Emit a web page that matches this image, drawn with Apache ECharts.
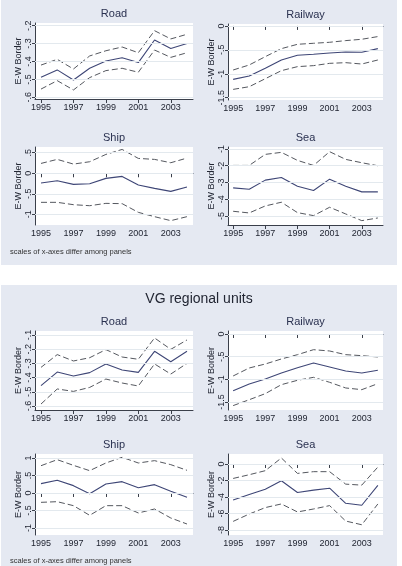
<!DOCTYPE html>
<html>
<head>
<meta charset="utf-8">
<script src="https://cdn.jsdelivr.net/npm/echarts@6/dist/echarts.min.js"></script>
<style>
html, body { margin: 0; padding: 0; background: #fff; }
#chart { width: 402px; height: 566px; }
</style>
</head>
<body>
<div id="chart"></div>
<script>
var years = [1995, 1996, 1997, 1998, 1999, 2000, 2001, 2002, 2003, 2004];
var xTicks = [1995, 1997, 1999, 2001, 2003];

// upper figure
var road1 = [-0.488, -0.447, -0.503, -0.438, -0.397, -0.379, -0.406, -0.28, -0.327, -0.299];
var road1Hi = [-0.42, -0.388, -0.442, -0.369, -0.34, -0.319, -0.351, -0.228, -0.274, -0.248];
var road1Lo = [-0.554, -0.507, -0.559, -0.49, -0.451, -0.438, -0.46, -0.336, -0.377, -0.351];
var rail1 = [-1.117, -1.047, -0.886, -0.712, -0.614, -0.593, -0.565, -0.544, -0.551, -0.475];
var rail1Hi = [-0.921, -0.816, -0.642, -0.475, -0.384, -0.363, -0.342, -0.307, -0.279, -0.223];
var rail1Lo = [-1.326, -1.27, -1.103, -0.935, -0.851, -0.83, -0.782, -0.768, -0.796, -0.712];
var ship1 = [-0.238, -0.181, -0.27, -0.254, -0.124, -0.076, -0.287, -0.368, -0.441, -0.335];
var ship1Hi = [0.24, 0.338, 0.224, 0.281, 0.459, 0.581, 0.362, 0.338, 0.257, 0.37];
var ship1Lo = [-0.708, -0.708, -0.765, -0.79, -0.733, -0.74, -0.952, -1.057, -1.154, -1.057];
var sea1 = [-3.32, -3.4, -2.86, -2.7, -3.22, -3.48, -2.8, -3.22, -3.56, -3.56];
var sea1Hi = [-1.98, -1.98, -1.32, -1.2, -1.68, -1.98, -1.16, -1.62, -1.82, -2.0];
var sea1Lo = [-4.72, -4.82, -4.4, -4.18, -4.8, -4.98, -4.48, -4.88, -5.28, -5.12];

// lower figure: VG regional units
var road2 = [-0.457, -0.361, -0.389, -0.365, -0.304, -0.346, -0.363, -0.215, -0.288, -0.215];
var road2Hi = [-0.328, -0.238, -0.283, -0.26, -0.203, -0.255, -0.271, -0.121, -0.201, -0.135];
var road2Lo = [-0.586, -0.48, -0.497, -0.469, -0.41, -0.438, -0.459, -0.304, -0.375, -0.3];
var rail2 = [-1.25, -1.103, -0.993, -0.86, -0.743, -0.64, -0.728, -0.816, -0.86, -0.801];
var rail2Hi = [-0.926, -0.75, -0.662, -0.551, -0.456, -0.346, -0.375, -0.456, -0.478, -0.507];
var rail2Lo = [-1.58, -1.45, -1.316, -1.118, -1.022, -0.956, -1.066, -1.191, -1.228, -1.096];
var ship2 = [0.267, 0.362, 0.21, -0.019, 0.257, 0.324, 0.152, 0.238, 0.048, -0.124];
var ship2Hi = [0.78, 0.952, 0.79, 0.638, 0.857, 1.02, 0.857, 0.924, 0.81, 0.648];
var ship2Lo = [-0.267, -0.248, -0.362, -0.638, -0.362, -0.362, -0.571, -0.457, -0.714, -0.886];
var sea2 = [-4.35, -3.7, -3.05, -2.03, -3.46, -3.17, -2.93, -4.76, -5.0, -2.6];
var sea2Hi = [-1.75, -1.3, -0.81, 0.73, -1.14, -0.93, -0.93, -2.44, -2.56, -0.37];
var sea2Lo = [-6.95, -6.06, -5.28, -4.84, -5.81, -5.45, -5.04, -6.91, -7.36, -4.84];

// y tick labels
var roadTicks1 = [-0.6, -0.5, -0.4, -0.3, -0.2];
var railTicks = [-1.5, -1, -0.5, 0];
var shipTicks1 = [-1, -0.5, 0, 0.5];
var seaTicks1 = [-5, -4, -3, -2, -1];
var roadTicks2 = [-0.6, -0.5, -0.4, -0.3, -0.2, -0.1];
var shipTicks2 = [-1, -0.5, 0, 0.5, 1];
var seaTicks2 = [-8, -6, -4, -2, 0];

var panels = [
  {name: 'Road', est: road1, hi: road1Hi, lo: road1Lo, ticks: roadTicks1, yMin: -0.6095, yMax: -0.185, box: [35, 23, 158, 76], col: 0},
  {name: 'Railway', est: rail1, hi: rail1Hi, lo: rail1Lo, ticks: railTicks, yMin: -1.548, yMax: 0.04, box: [228, 24, 155, 76], col: 1},
  {name: 'Ship', est: ship1, hi: ship1Hi, lo: ship1Lo, ticks: shipTicks1, yMin: -1.26, yMax: 0.64, box: [35, 147, 158, 78], col: 0},
  {name: 'Sea', est: sea1, hi: sea1Hi, lo: sea1Lo, ticks: seaTicks1, yMin: -5.54, yMax: -0.88, box: [228, 147, 155, 78], col: 1},
  {name: 'Road', est: road2, hi: road2Hi, lo: road2Lo, ticks: roadTicks2, yMin: -0.628, yMax: -0.072, box: [35, 331, 158, 79], col: 0},
  {name: 'Railway', est: rail2, hi: rail2Hi, lo: rail2Lo, ticks: railTicks, yMin: -1.677, yMax: 0.066, box: [228, 331, 155, 79], col: 1},
  {name: 'Ship', est: ship2, hi: ship2Hi, lo: ship2Lo, ticks: shipTicks2, yMin: -1.2, yMax: 1.114, box: [35, 454, 158, 81], col: 0},
  {name: 'Sea', est: sea2, hi: sea2Hi, lo: sea2Lo, ticks: seaTicks2, yMin: -8.6, yMax: 1.21, box: [228, 454, 155, 81], col: 1}
];

var font = 'Liberation Sans, Arial, sans-serif';
var axisColor = '#3a3f4a';
var textColor = '#222633';

function stataNum(v) {
  var s = String(v);
  return s.replace(/^(-?)0\./, '$1.');
}

function pairs(arr) {
  return years.map(function (y, i) { return [y, arr[i]]; });
}

var grids = [], xAxes = [], yAxes = [], series = [], titles = [];

panels.forEach(function (p, i) {
  var b = p.box;
  grids.push({left: b[0], top: b[1], width: b[2], height: b[3], show: true, backgroundColor: '#fff', borderWidth: 0});
  xAxes.push({
    type: 'value', gridIndex: i,
    min: p.col === 0 ? 1994.63 : 1994.68,
    max: p.col === 0 ? 2004.37 : 2004.32,
    axisLine: {lineStyle: {color: axisColor, width: 1}},
    axisTick: {inside: false, length: 4, customValues: xTicks, lineStyle: {color: axisColor}},
    axisLabel: {customValues: xTicks, color: textColor, fontSize: 9, fontFamily: font, margin: 4,
      formatter: function (v) { return String(v); }},
    splitLine: {show: false}
  });
  yAxes.push({
    type: 'value', gridIndex: i, min: p.yMin, max: p.yMax,
    name: 'E-W Border', nameLocation: 'middle', nameRotate: 90, nameGap: 11,
    nameTextStyle: {color: textColor, fontSize: 9, fontFamily: font},
    axisLine: {show: true, lineStyle: {color: axisColor, width: 1}},
    axisTick: {show: true, inside: false, length: 3, customValues: p.ticks, lineStyle: {color: axisColor}},
    axisLabel: {customValues: p.ticks, rotate: 90, color: textColor, fontSize: 9, fontFamily: font, margin: 2,
      formatter: stataNum},
    splitLine: {show: false}
  });
  titles.push({
    text: p.name, left: b[0] + b[2] / 2, top: b[1] - 15, textAlign: 'center', padding: 0,
    textStyle: {color: '#2a3150', fontSize: 11, fontWeight: 'normal', fontFamily: font}
  });
  series.push({
    type: 'line', xAxisIndex: i, yAxisIndex: i, data: [], z: 1, silent: true,
    markLine: {silent: true, symbol: 'none', label: {show: false},
      lineStyle: {color: '#e3e9ee', type: 'solid', width: 1},
      data: p.ticks.map(function (v) { return {yAxis: v}; })}
  });
  [p.hi, p.lo].forEach(function (arr) {
    series.push({
      type: 'line', xAxisIndex: i, yAxisIndex: i, data: pairs(arr), symbol: 'none', silent: true,
      lineStyle: {color: '#55585f', width: 1, type: [6, 3]}, z: 3
    });
  });
  series.push({
    type: 'line', xAxisIndex: i, yAxisIndex: i, data: pairs(p.est), symbol: 'none', silent: true,
    lineStyle: {color: '#3e4676', width: 1.1}, z: 4
  });
});

titles.push({
  text: 'VG regional units', left: 199, top: 292, textAlign: 'center', padding: 0,
  textStyle: {color: textColor, fontSize: 14, fontWeight: 'normal', fontFamily: font}
});
titles.push({
  text: 'scales of x-axes differ among panels', left: 10, top: 248, padding: 0,
  textStyle: {color: '#333', fontSize: 7.5, fontWeight: 'normal', fontFamily: font}
});
titles.push({
  text: 'scales of x-axes differ among panels', left: 10, top: 557, padding: 0,
  textStyle: {color: '#333', fontSize: 7.5, fontWeight: 'normal', fontFamily: font}
});

var chart = echarts.init(document.getElementById('chart'), null, {renderer: 'canvas'});
chart.setOption({
  animation: false,
  backgroundColor: '#fff',
  title: titles,
  graphic: [
    {type: 'rect', z: -10, silent: true, shape: {x: 1, y: 0, width: 396, height: 265}, style: {fill: '#e5e9f2'}},
    {type: 'rect', z: -10, silent: true, shape: {x: 1, y: 285, width: 396, height: 281}, style: {fill: '#e5e9f2'}}
  ],
  grid: grids,
  xAxis: xAxes,
  yAxis: yAxes,
  series: series
});
</script>
</body>
</html>
